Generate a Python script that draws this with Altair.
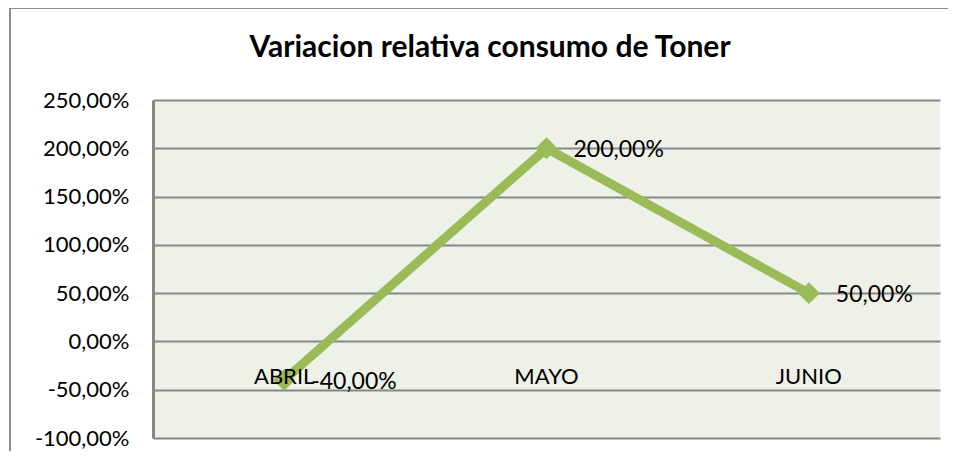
import altair as alt
import pandas as pd

months = ["ABRIL", "MAYO", "JUNIO"]
values = [-0.40, 2.00, 0.50]
y_ticks = [-1.0, -0.5, 0.0, 0.5, 1.0, 1.5, 2.0, 2.5]
title_text = "Variacion relativa consumo de Toner"

df = pd.DataFrame({"mes": months, "valor": values})

FONT = "Lato"
GREEN = "#9BBB59"
GRID = "#878787"
FMT = "replace(replace(format({v}, '.2%'), '.', ','), '\u2212', '-')"

x_enc = alt.X("mes:N", sort=months, axis=None,
              scale=alt.Scale(type="point", padding=0.5))
y_scale = alt.Scale(domain=[-1.0, 2.5], nice=False, zero=False)

base = alt.Chart(df)

line = base.mark_line(color=GREEN, strokeWidth=9).encode(
    x=x_enc,
    y=alt.Y("valor:Q", scale=y_scale, title=None,
            axis=alt.Axis(values=y_ticks, labelExpr=FMT.format(v="datum.value"),
                          grid=True, gridColor=GRID, gridWidth=2, domain=True,
                          domainColor=GRID, domainWidth=3, ticks=False,
                          labelFont=FONT, labelFontSize=22, labelColor="#000000",
                          labelPadding=24)),
)

points = base.mark_point(shape="diamond", filled=True, color=GREEN, size=480, opacity=1).encode(
    x=x_enc, y=alt.Y("valor:Q", scale=y_scale)
)

labels = base.mark_text(align="left", baseline="middle", dx=27, dy=2,
                        font=FONT, fontSize=23, color="#000000").transform_calculate(
    etiqueta=FMT.format(v="datum.valor")
).encode(x=x_enc, y=alt.Y("valor:Q", scale=y_scale), text="etiqueta:N")

cats = base.mark_text(align="center", baseline="middle", dy=36,
                      font=FONT, fontSize=22, color="#000000").encode(
    x=x_enc, y=alt.datum(0), text="mes:N"
)

title = alt.Chart(pd.DataFrame({"t": [title_text]})).mark_text(
    align="center", baseline="middle", font=FONT, fontSize=30, fontWeight="bold",
    color="#000000"
).encode(x=alt.value(337), y=alt.value(-52), text="t:N")

frame = alt.Chart(pd.DataFrame({"t": [title_text]})).mark_rect(
    fill="#FFFFFF", fillOpacity=0, stroke="#8C8C8C", strokeWidth=2
).encode(
    x=alt.value(-143), x2=alt.value(900), y=alt.value(-92), y2=alt.value(500)
)

chart = alt.layer(frame, line, points, labels, cats, title).properties(
    width=787, height=338,
    autosize=alt.AutoSizeParams(type="none"),
    padding={"left": 145, "top": 92, "right": 8, "bottom": 13},
    background="#FFFFFF",
).configure_view(fill="#EEF1E8", stroke=None)

chart.save("out.html", embed_options={"renderer": "svg", "actions": False})
